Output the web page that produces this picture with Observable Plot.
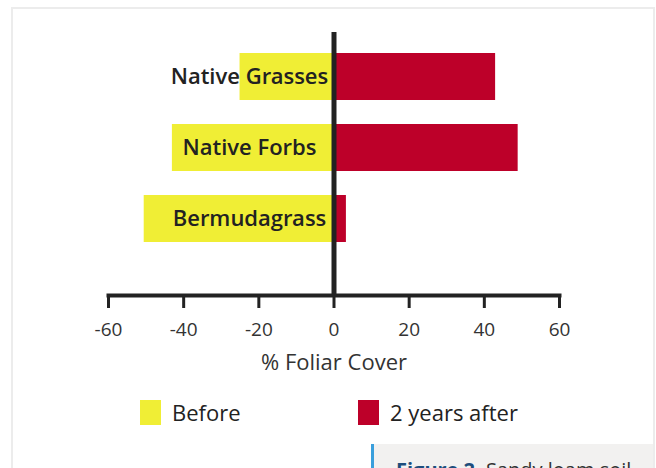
<!DOCTYPE html>
<html>
<head>
<meta charset="utf-8">
<script src="https://cdn.jsdelivr.net/npm/d3@7"></script>
<script src="https://cdn.jsdelivr.net/npm/@observablehq/plot@0.6"></script>
<style>
  html, body { margin: 0; padding: 0; background: #fff; overflow: hidden; }
  body { width: 656px; height: 468px; position: relative; font-family: "Open Sans", sans-serif; }
  #frame { position: absolute; left: 11px; top: 7px; width: 640px; height: 520px; border: 2px solid #ececec; }
  #chart { position: absolute; left: 0; top: 0; }
  .leg { position: absolute; top: 397px; display: flex; align-items: center; font-size: 22px; color: #222; }
  .sw { width: 21px; height: 25px; margin-right: 11px; }
  #cap { position: absolute; left: 371px; top: 444px; width: 282px; height: 40px; background: #f2f1f0;
         border-left: 3px solid #3a9fdc; overflow: hidden; white-space: nowrap; font-size: 20px; color: #333;
         padding-left: 22px; box-sizing: border-box; padding-top: 12px; }
  #cap b { color: #1d4d7c; }
</style>
</head>
<body>
<div id="frame"></div>
<div id="chart"></div>
<div id="leg1" class="leg"></div>
<div id="leg2" class="leg"></div>
<div id="cap"><b>Figure 2.</b> Sandy loam soil</div>
<script>
const categories = ["Native Grasses", "Native Forbs", "Bermudagrass"];
const before = [-25, -43, -50.5];
const after = [43, 49, 3.3];
const xTicks = [-60, -40, -20, 0, 20, 40, 60];
const seriesNames = ["Before", "2 years after"];
const colors = ["#f0ee35", "#bd0029"];

const ink = "#222";
const chart = Plot.plot({
  width: 656,
  height: 380,
  marginLeft: 108,
  marginRight: 97,
  marginTop: 32,
  marginBottom: 85,
  style: { fontFamily: "Open Sans, sans-serif", color: ink, background: "transparent" },
  x: { domain: [-60, 60], ticks: xTicks },
  y: { domain: categories, paddingInner: 0.338, paddingOuter: 0.52, align: 0.284 },
  marks: [
    Plot.barX(categories, { y: d => d, x1: 0, x2: (d, i) => before[i], fill: colors[0] }),
    Plot.barX(categories, { y: d => d, x1: 0, x2: (d, i) => after[i], fill: colors[1] }),
    Plot.ruleX([0], { stroke: ink, strokeWidth: 5 }),
    Plot.frame({ anchor: "bottom", stroke: ink, strokeWidth: 4 }),
    Plot.axisX({ ticks: xTicks, tickFormat: d => String(d), tickSize: 13, tickPadding: 14, strokeWidth: 3, stroke: ink,
                 fontSize: 19, color: "#333", label: null }),
    Plot.text(["% Foliar Cover"], { frameAnchor: "bottom", dy: 74, fontSize: 22, fill: "#333" }),
    Plot.axisY({ anchor: "left", tickSize: 0, tickPadding: 0, textAnchor: "middle", dx: 141,
                 fontSize: 22, fontWeight: 600, fontFamily: "Open Sans SemiBold, Open Sans, sans-serif",
                 fill: ink, label: null })
  ]
});
document.getElementById("chart").appendChild(chart);

function legend(id, left, i) {
  const el = document.getElementById(id);
  el.style.left = left + "px";
  el.innerHTML = `<span class="sw" style="background:${colors[i]}"></span><span>${seriesNames[i]}</span>`;
}
legend("leg1", 140, 0);
legend("leg2", 358, 1);
</script>
</body>
</html>
